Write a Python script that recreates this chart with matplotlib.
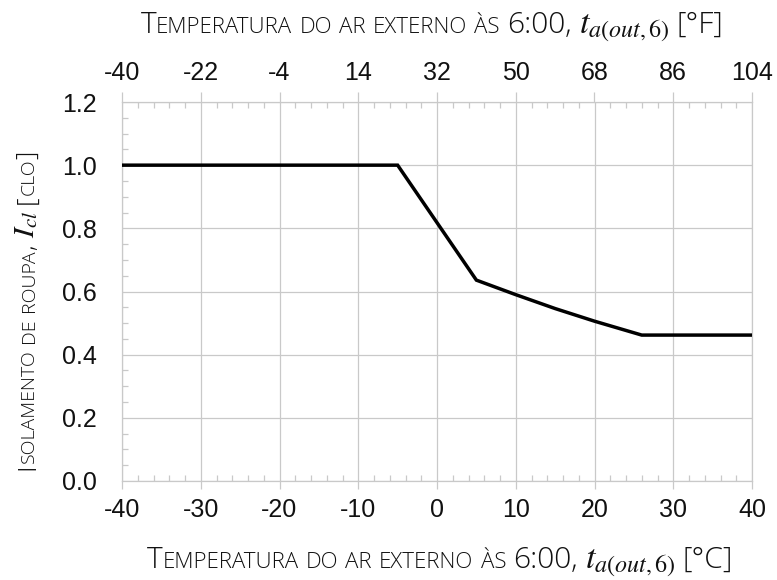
import matplotlib
matplotlib.use("Agg")
import matplotlib.pyplot as plt
import matplotlib.transforms as mtransforms
from matplotlib.ticker import MultipleLocator, FixedLocator

# ---- data ----
t_out_c = [-40, -5, 5, 10, 15, 20, 26, 40]
clo = [1.0, 1.0, 0.636, 0.59, 0.546, 0.506, 0.462, 0.462]
x_ticks_c = [-40, -30, -20, -10, 0, 10, 20, 30, 40]
x_ticks_f = ["-40", "-22", "-4", "14", "32", "50", "68", "86", "104"]
y_ticks = [0.0, 0.2, 0.4, 0.6, 0.8, 1.0, 1.2]

W, H = 777, 580
plt.rcParams['mathtext.fontset'] = 'stix'
fig = plt.figure(figsize=(W / 100, H / 100), dpi=100)
ax = fig.add_axes([122 / W, 1 - 481 / H, (752 - 122) / W, (481 - 102) / H])

grid_c = '#c9c9c9'
ax.plot(t_out_c, clo, color='black', lw=2.5, solid_joinstyle='miter', zorder=3)
ax.set_xlim(-40, 40)
ax.set_ylim(0, 1.2)
ax.xaxis.set_major_locator(FixedLocator(x_ticks_c))
ax.xaxis.set_minor_locator(MultipleLocator(2))
ax.yaxis.set_major_locator(FixedLocator(y_ticks))
ax.yaxis.set_minor_locator(MultipleLocator(0.05))
ax.grid(True, which='major', color=grid_c, lw=0.9)
for s in ax.spines.values():
    s.set_color(grid_c)
    s.set_linewidth(0.9)

tick_font = 'Liberation Sans'
tick_size = 18
ax.set_xticklabels([str(v) for v in x_ticks_c])
ax.set_yticklabels([f"{v:.1f}" for v in y_ticks])
ax.tick_params(axis='x', which='major', direction='out', length=6, width=0.9,
               color=grid_c, pad=6.5, labelsize=tick_size, top=False)
ax.tick_params(axis='x', which='minor', direction='in', length=4, width=0.9,
               color=grid_c, top=True, bottom=True)
ax.tick_params(axis='y', which='major', length=0, pad=18, labelsize=tick_size)
ax.tick_params(axis='y', which='minor', direction='in', length=4, width=0.9,
               color=grid_c)
for lab in ax.get_xticklabels() + ax.get_yticklabels():
    lab.set_fontfamily(tick_font)
    lab.set_color('#111111')

sec = ax.secondary_xaxis('top')
sec.xaxis.set_major_locator(FixedLocator(x_ticks_c))
sec.set_xticklabels(x_ticks_f)
sec.tick_params(axis='x', which='major', direction='out', length=7.5, width=0.9,
                color=grid_c, pad=5, labelsize=tick_size)
sec.tick_params(axis='x', which='minor', length=0)
sec.spines['top'].set_visible(False)
for lab in sec.get_xticklabels():
    lab.set_fontfamily(tick_font)
    lab.set_color('#111111')

# ---- small-caps labels ----
renderer = fig.canvas.get_renderer()
label_family = 'Open Sans'


def pieces_from(s, big, small, sp):
    out = []
    for word_i, word in enumerate(s.split(' ')):
        if word_i > 0:
            out.append((None, sp))
        run, run_small = '', None
        for ch in word:
            is_small = ch.islower()
            if run_small is None or is_small == run_small:
                run += ch.upper()
                run_small = is_small
            else:
                out.append((run, small if run_small else big, {}))
                run, run_small = ch.upper(), is_small
        if run:
            out.append((run, small if run_small else big, {}))
    return out


def layout(pieces, center, baseline, vertical=False):
    arts, widths = [], []
    for p in pieces:
        if p[0] is None:
            arts.append(None)
            widths.append(p[1])
            continue
        kw = dict(family=label_family, weight='light', color='#111111')
        kw.update(p[2])
        t = fig.text(0, 0, p[0], fontsize=p[1], transform=mtransforms.IdentityTransform(),
                     ha='left', va='baseline', rotation=90 if vertical else 0,
                     rotation_mode='anchor', **kw)
        bb = t.get_window_extent(renderer)
        arts.append(t)
        widths.append(bb.height if vertical else bb.width)
    total = sum(widths)
    pos = center - total / 2
    for a, w in zip(arts, widths):
        if a is not None:
            a.set_position((baseline, pos) if vertical else (pos, baseline))
        pos += w


math_kw = {'family': 'serif', 'weight': 'normal'}


def build(main, math, unit, big, small, mathsize, sp):
    return (pieces_from(main, big, small, sp) + [(None, sp), (math, mathsize, math_kw),
            (None, sp)] + pieces_from(unit, big, small, sp))


x_label_text = 'Temperatura do ar externo às 6:00,'
top_pieces = build(x_label_text, r'$t_{a(out,6)}$', '[°F]', 21.6, 16, 24.7, 7.2)
bot_pieces = build(x_label_text, r'$t_{a(out,6)}$', '[°C]', 21.6, 16, 24.7, 7.2)
y_pieces = build('Isolamento de roupa,', r'$I_{cl}$', '[clo]', 19, 14, 21.6, 6.3)

layout(top_pieces, 432, H - 33)
layout(bot_pieces, 440, H - 568)
layout(y_pieces, H - 310, 34, vertical=True)

fig.savefig('out.png', dpi=100)
